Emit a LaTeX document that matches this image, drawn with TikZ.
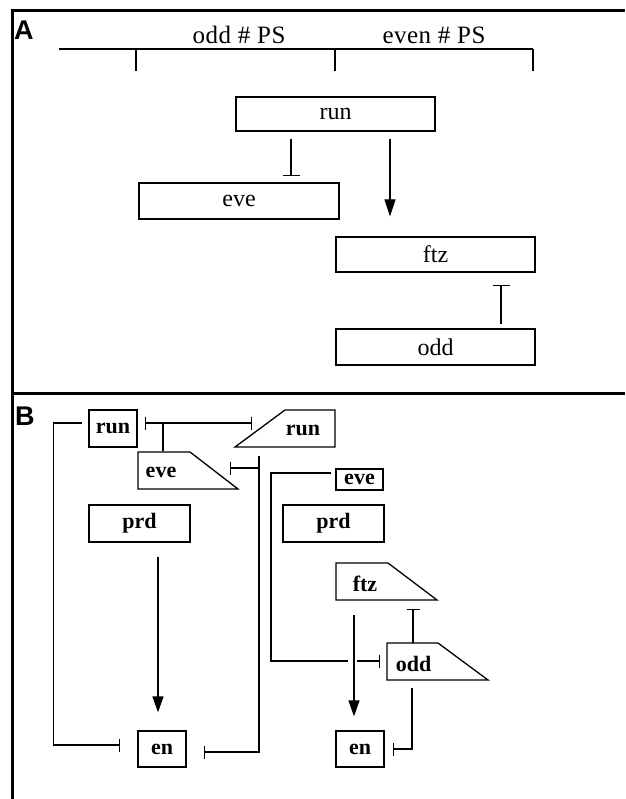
\documentclass[tikz,border=0pt]{standalone}
\usepackage{fontspec}
\setmainfont{Liberation Serif}
\newfontfamily\panelfont{Liberation Sans}
\usetikzlibrary{arrows.meta}
\begin{document}
\begin{tikzpicture}[x=1pt,y=-1pt,
  ln/.style={line width=1.3pt},
  frame/.style={line width=3pt},
  boxA/.style={draw,line width=1.3pt,inner sep=0pt,font=\fontsize{24}{24}\selectfont},
  boxB/.style={draw,line width=1.3pt,inner sep=0pt,font=\fontsize{22}{22}\selectfont\bfseries},
  labB/.style={inner sep=0pt,font=\fontsize{22}{22}\selectfont\bfseries},
  panel/.style={inner sep=0pt,anchor=west,font=\panelfont\fontsize{27}{27}\selectfont\bfseries},
  head/.style={inner sep=0pt,font=\fontsize{25}{25}\selectfont\addfontfeature{LetterSpace=2}},
  inhA/.style={ln,-{Bar[width=17pt,line width=1.4pt]}},
  inhB/.style={ln,-{Bar[width=13pt,line width=1.4pt]}},
  actA/.style={ln,-{Triangle[length=17pt,width=11pt]}},
  actB/.style={ln,-{Triangle[length=16pt,width=11pt]}},
  trap/.style={line width=1.3pt,line join=miter}
]
\useasboundingbox (0,0) rectangle (625,799);
% frame
\draw[frame] (12,799) -- (12,11) -- (625,11);
\draw[frame] (12,393) -- (625,393);

% ---------- Panel A ----------
\node[panel] (labA) at (14,30) {A};
\node[head] (oddps) at (239,35) {odd \# PS};
\node[head] (evenps) at (434,35) {even \# PS};
\draw[ln] (59,49) -- (533,49);
\draw[ln] (136,49) -- (136,71);
\draw[ln] (335,49) -- (335,71);
\draw[ln] (533,49) -- (533,71);

\node[boxA,minimum width=199,minimum height=34] (runA) at (335.5,114) {run};
\node[boxA,minimum width=200,minimum height=36] (eveA) at (239,201) {eve};
\node[boxA,minimum width=199,minimum height=35] (ftzA) at (435.5,254.5) {ftz};
\node[boxA,minimum width=199,minimum height=36] (oddA) at (435.5,347) {odd};

\draw[inhA] ([xshift=-44.5pt,yshift=-7pt]runA.south) -- ([xshift=52pt,yshift=6pt]eveA.north);
\draw[actA] ([xshift=54.5pt,yshift=-7pt]runA.south) -- ([xshift=-45.5pt,yshift=20pt]ftzA.north);
\draw[inhA] ([xshift=65.5pt,yshift=4pt]oddA.north) -- ([xshift=65.5pt,yshift=-12pt]ftzA.south);

% ---------- Panel B ----------
\node[panel] (labB) at (15,416) {B};

\node[boxB,minimum width=48,minimum height=37] (runL) at (113,428.5) {run};
\node[boxB,minimum width=101,minimum height=37] (prdL) at (139.5,523.5) {prd};
\node[boxB,minimum width=48,minimum height=36] (enL) at (162,749) {en};
\node[boxB,minimum width=47,minimum height=21] (eveS) at (359.5,479.5) {eve};
\node[boxB,minimum width=101,minimum height=37] (prdR) at (333.5,523.5) {prd};
\node[boxB,minimum width=48,minimum height=36] (enR) at (360,749) {en};

% trapezoids
\draw[trap] (235,447) -- (285,410) -- (335,410) -- (335,447) -- cycle;
\node[labB] (runR) at (303,430) {run};
\draw[trap] (138,452) -- (190,452) -- (238,489) -- (138,489) -- cycle;
\node[labB] (eveL) at (161,472.5) {eve};
\draw[trap] (336,563) -- (388,563) -- (437,600) -- (336,600) -- cycle;
\node[labB] (ftzR) at (365,583.5) {ftz};
\draw[trap] (387,643) -- (438,643) -- (488,680) -- (387,680) -- cycle;
\node[labB] (oddR) at (413.5,663.5) {odd};

\coordinate (eveLtop) at (163,451);
\coordinate (runRbot) at (259,456);
\coordinate (ftzRbot) at (354,615);
\coordinate (ftzRbar) at (413,609);
\coordinate (oddRtop) at (413,643);
\coordinate (oddRbot) at (412,688);

% run (left) -| en (left)
\draw[inhB] ([xshift=-6pt,yshift=5.5pt]runL.west) -- ++(-29,0) |- ([xshift=-17pt,yshift=4pt]enL.west);
% eve (left) inhibits both run
\draw[ln,{Bar[width=13pt,line width=1.4pt]}-{Bar[width=13pt,line width=1.4pt]}]
  ([xshift=7pt,yshift=5.5pt]runL.east) -- ([xshift=-51pt,yshift=7pt]runR.center);
\draw[ln] (eveLtop |- 0,423) -- (eveLtop);
% run (right) inhibits eve (left) and en (left)
\draw[inhB] (runRbot) |- ([xshift=17pt,yshift=-3pt]enL.east);
\draw[inhB] (runRbot |- 0,468) -- (230,468);
% prd -> en
\draw[actB] ([xshift=18.5pt,yshift=-14pt]prdL.south) -- ([xshift=-4pt,yshift=18pt]enL.north);
% eve (small) inhibits odd
\draw[ln] ([xshift=-4pt,yshift=6.5pt]eveS.west) -| (271,661) -- (348,661);
\draw[inhB] (357,661) -- (380,661);
% ftz -> en
\draw[actB] (ftzRbot) -- ([xshift=-6pt,yshift=14pt]enR.north);
% odd inhibits ftz
\draw[inhB] (oddRtop) -- (ftzRbar);
% odd inhibits en
\draw[inhB] (oddRbot) |- ([xshift=8pt]enR.east);
\end{tikzpicture}
\end{document}
